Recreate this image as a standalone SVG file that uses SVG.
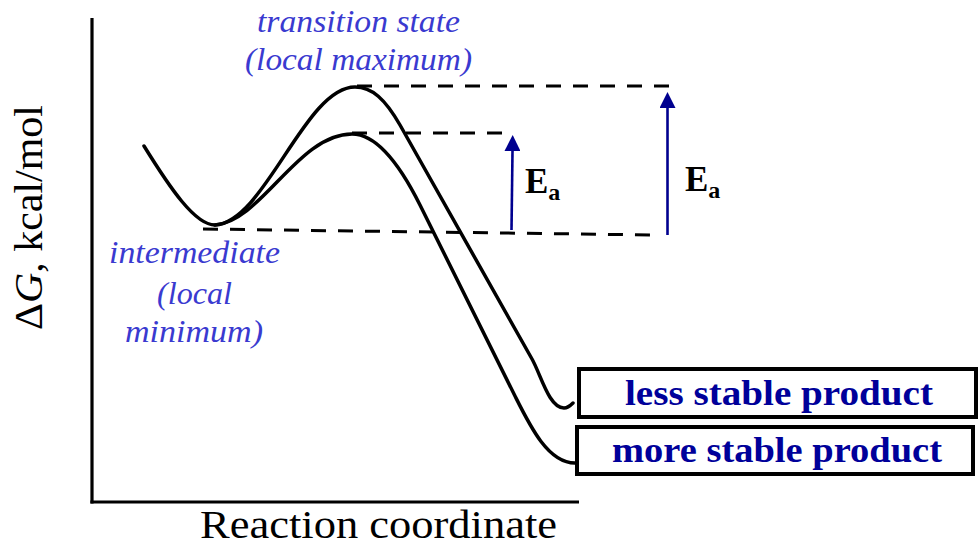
<svg xmlns="http://www.w3.org/2000/svg" width="979" height="547" viewBox="0 0 979 547">
<style>
.curve{fill:none;stroke:#000;stroke-width:3.5;stroke-linecap:round;stroke-linejoin:round}
.axis{fill:none;stroke:#000;stroke-width:3.2}
.dash{fill:none;stroke:#000;stroke-width:3;stroke-dasharray:15 12}
.arrow{fill:none;stroke:#00008f;stroke-width:2.6}
.ann{font-family:"Liberation Serif",serif;font-style:italic;font-size:32px;fill:#3a3ad0;text-anchor:middle}
.axlab{font-family:"Liberation Serif",serif;font-size:40px;fill:#000}
.ea{font-family:"Liberation Serif",serif;font-weight:bold;fill:#000}
.box{fill:#fff;stroke:#000;stroke-width:4}
.prod{font-family:"Liberation Serif",serif;font-weight:bold;font-size:35px;fill:#00009a;text-anchor:middle}
</style>
<defs>
<marker id="ah" viewBox="0 0 16 16" refX="0" refY="8" markerWidth="16" markerHeight="16" markerUnits="userSpaceOnUse" orient="auto">
<path d="M0,0 L16,8 L0,16 z" fill="#00008f"/>
</marker>
</defs>
<g id="connectors">
<line class="axis" x1="92" y1="18" x2="92" y2="503.5"/>
<line class="axis" x1="90.4" y1="502" x2="579" y2="502"/>
<line class="dash" x1="357" y1="86" x2="670" y2="86"/>
<line class="dash" x1="352" y1="133" x2="504" y2="133"/>
<line class="dash" x1="203" y1="229" x2="655" y2="235"/>
<path class="curve" d="M144,146 C170,188 195,225 215,225 C265,222 305,87 355,87 C372,87 385,99 400,125 L532,359 C541,375 549,408 564,408 C568,408 570,406 573,403"/>
<path class="curve" d="M215,225 C262,221 298,134 352,134 C375,134 398,161 420,205 L515,396 C530,426 548,463 575,463"/>
<line class="arrow" x1="511.5" y1="230" x2="512.5" y2="151" marker-end="url(#ah)"/>
<line class="arrow" x1="667.5" y1="235" x2="667.5" y2="108" marker-end="url(#ah)"/>
</g>
<g id="y-axis-label">
<text class="axlab" transform="translate(42,330) rotate(-90)" textLength="225" lengthAdjust="spacingAndGlyphs">Δ<tspan font-style="italic">G</tspan>, kcal/mol</text>
</g>
<g id="x-axis-label">
<text class="axlab" x="200" y="538" font-size="38" textLength="357" lengthAdjust="spacingAndGlyphs">Reaction coordinate</text>
</g>
<g id="transition-state">
<text class="ann" x="358.5" y="32" textLength="203" lengthAdjust="spacingAndGlyphs">transition state</text>
<text class="ann" x="358.5" y="70" textLength="227" lengthAdjust="spacingAndGlyphs">(local maximum)</text>
</g>
<g id="intermediate">
<text class="ann" x="194.5" y="263" textLength="171" lengthAdjust="spacingAndGlyphs">intermediate</text>
<text class="ann" x="194.5" y="304" textLength="75" lengthAdjust="spacingAndGlyphs">(local</text>
<text class="ann" x="194" y="342" textLength="138" lengthAdjust="spacingAndGlyphs">minimum)</text>
</g>
<g id="ea-small">
<text class="ea" x="525" y="193" font-size="35">E<tspan font-size="24" dy="7">a</tspan></text>
</g>
<g id="ea-large">
<text class="ea" x="685" y="191" font-size="35">E<tspan font-size="24" dy="7">a</tspan></text>
</g>
<g id="less-stable-product">
<rect class="box" x="579" y="369" width="397" height="48"/>
<text class="prod" x="779" y="405" textLength="308" lengthAdjust="spacingAndGlyphs">less stable product</text>
</g>
<g id="more-stable-product">
<rect class="box" x="577" y="427" width="396" height="47"/>
<text class="prod" x="777" y="462" textLength="330" lengthAdjust="spacingAndGlyphs">more stable product</text>
</g>
</svg>
